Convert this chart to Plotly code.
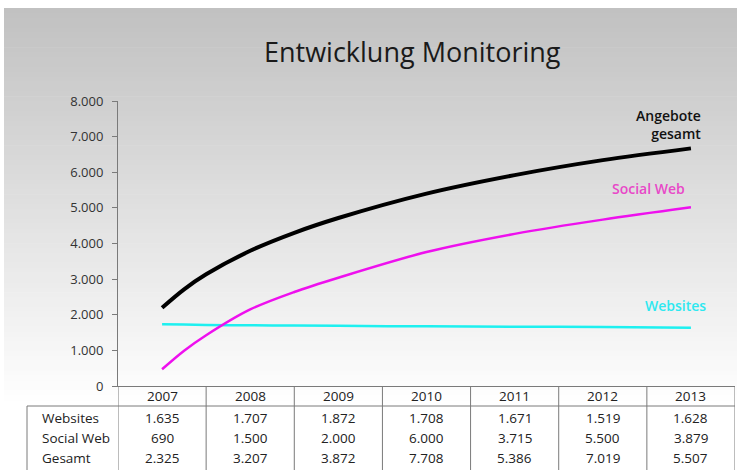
import plotly.graph_objects as go

# ---- data ----
years = [2007, 2008, 2009, 2010, 2011, 2012, 2013]
# trend curves (more readings where the curve bends)
trend_x = [2007, 2007.25, 2007.5, 2008, 2008.5, 2009, 2010, 2011, 2012, 2013]
trend_gesamt = [2198, 2715, 3135, 3795, 4300, 4715, 5400, 5920, 6340, 6670]
trend_social = [470, 990, 1425, 2150, 2640, 3040, 3760, 4270, 4670, 5015]
trend_websites = [1731, 1725, 1712, 1703, 1695, 1688, 1675, 1665, 1655, 1638]

row_labels = ["Websites", "Social Web", "Gesamt"]
tab_websites = [1635, 1707, 1872, 1708, 1671, 1519, 1628]
tab_social = [690, 1500, 2000, 6000, 3715, 5500, 3879]
tab_gesamt = [2325, 3207, 3872, 7708, 5386, 7019, 5507]

y_ticks = [0, 1000, 2000, 3000, 4000, 5000, 6000, 7000, 8000]
title_text = "Entwicklung Monitoring"

# ---- layout geometry (pixels) ----
W, H = 737, 470
L, R, T, B = 118, 2, 101, 84
PW, PH = W - L - R, H - T - B


def px_x(px):
    return (px - L) / PW


def px_y(py):
    return (H - B - py) / PH


def de(v):
    return f"{v:,}".replace(",", ".")


FONT = "Open Sans"
fig = go.Figure()

fig.add_trace(go.Scatter(x=trend_x, y=trend_websites, mode="lines",
                         line=dict(color="#1ef0f0", width=2.5, shape="spline", smoothing=0.9),
                         hoverinfo="skip"))
fig.add_trace(go.Scatter(x=trend_x, y=trend_social, mode="lines",
                         line=dict(color="#ee10ee", width=2.5, shape="spline", smoothing=0.9),
                         hoverinfo="skip"))
fig.add_trace(go.Scatter(x=trend_x, y=trend_gesamt, mode="lines",
                         line=dict(color="#000000", width=4, shape="spline", smoothing=0.9),
                         hoverinfo="skip"))

shapes = []
# background gradient
n = 80
top_px, bot_px = 8, 400
for i in range(n):
    y0 = top_px + (bot_px - top_px) * i / n
    y1 = top_px + (bot_px - top_px) * (i + 1) / n + 0.6
    g = int(round(193 + (254 - 193) * (i / (n - 1))))
    shapes.append(dict(type="rect", xref="paper", yref="paper",
                       x0=px_x(4), x1=px_x(W), y0=px_y(y1), y1=px_y(y0),
                       fillcolor=f"rgb({g},{g},{g})", line=dict(width=0),
                       layer="below"))

grid_col = "#7a7a7a"
# table vertical lines
for k in range(len(years) + 1):
    xb = years[0] - 0.5 + k
    shapes.append(dict(type="line", xref="x", yref="paper", x0=xb, x1=xb,
                       y0=0, y1=px_y(H + 2), line=dict(color=grid_col, width=1)))
# table header bottom line
shapes.append(dict(type="line", xref="paper", yref="paper", x0=px_x(27), x1=px_x(735),
                   y0=px_y(406), y1=px_y(406), line=dict(color=grid_col, width=1)))
# left border of row labels
shapes.append(dict(type="line", xref="paper", yref="paper", x0=px_x(27), x1=px_x(27),
                   y0=px_y(406), y1=px_y(H + 2), line=dict(color=grid_col, width=1)))

annotations = []
tfont = dict(family=FONT, size=13.5, color="#222222")
for yr in years:
    annotations.append(dict(x=yr, y=px_y(396), xref="x", yref="paper", text=str(yr),
                            showarrow=False, font=tfont, xanchor="center", yanchor="middle"))
rows = [tab_websites, tab_social, tab_gesamt]
row_py = [418, 438, 458]
for lab, vals, py in zip(row_labels, rows, row_py):
    annotations.append(dict(x=px_x(40), y=px_y(py), xref="paper", yref="paper", text=lab,
                            showarrow=False, font=tfont, xanchor="left", yanchor="middle"))
    for yr, v in zip(years, vals):
        annotations.append(dict(x=yr, y=px_y(py), xref="x", yref="paper", text=de(v),
                                showarrow=False, font=tfont, xanchor="center", yanchor="middle"))

# series labels
annotations.append(dict(x=trend_x[-1], y=trend_gesamt[-1], xref="x", yref="y",
                        text="Angebote<br>gesamt", showarrow=False, align="right",
                        xanchor="right", yanchor="bottom", xshift=12, yshift=3,
                        font=dict(family=FONT, size=14, color="#111111", weight=600)))
annotations.append(dict(x=trend_x[-1], y=trend_social[-1], xref="x", yref="y",
                        text="Social Web", showarrow=False, align="right",
                        xanchor="right", yanchor="bottom", xshift=-4, yshift=7,
                        font=dict(family=FONT, size=14, color="#e848c8", weight=600)))
annotations.append(dict(x=trend_x[-1], y=trend_websites[-1], xref="x", yref="y",
                        text="Websites", showarrow=False, align="right",
                        xanchor="right", yanchor="bottom", xshift=17, yshift=11,
                        font=dict(family=FONT, size=14, color="#2ee8f0", weight=600)))

# title
annotations.append(dict(x=px_x(412), y=px_y(52), xref="paper", yref="paper", text=title_text,
                        showarrow=False, xanchor="center", yanchor="middle",
                        font=dict(family=FONT, size=27, color="#1a1a1a")))

fig.update_layout(
    width=W, height=H,
    margin=dict(l=L, r=R, t=T, b=B, pad=0),
    paper_bgcolor="white", plot_bgcolor="rgba(0,0,0,0)",
    showlegend=False,
    separators=",.",
    shapes=shapes, annotations=annotations,
    xaxis=dict(range=[years[0] - 0.5, years[-1] + 0.5], showgrid=False, zeroline=False,
               showticklabels=False, showline=True, linecolor=grid_col, linewidth=1,
               ticks="", fixedrange=True),
    yaxis=dict(range=[0, 8000], tickvals=y_ticks, tickformat=",d", showgrid=False,
               zeroline=False, showline=True, linecolor=grid_col, linewidth=1,
               ticks="outside", ticklen=5, tickcolor=grid_col, ticklabelstandoff=6,
               tickfont=dict(family=FONT, size=13, color="#333333"), fixedrange=True),
)

fig.write_html("out.html", config=dict(displayModeBar=False),
               post_script="document.body.style.margin='0';document.body.style.padding='0';")
